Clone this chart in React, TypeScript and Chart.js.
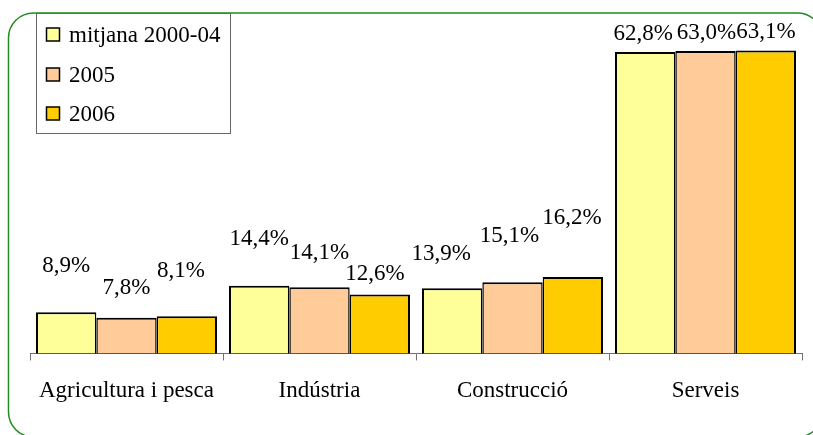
import { useEffect, useRef } from "react";
import { Chart, registerables } from "chart.js";

Chart.register(...registerables);

const categories = ["Agricultura i pesca", "Indústria", "Construcció", "Serveis"];
const seriesNames = ["mitjana 2000-04", "2005", "2006"];
const avg2000to04 = [8.9, 14.4, 13.9, 62.8];
const values2005 = [7.8, 14.1, 15.1, 63.0];
const values2006 = [8.1, 12.6, 16.2, 63.1];

const colors = ["#FFFF99", "#FFCC99", "#FFCC00"];
// manual label nudges (px) per series, per category (as placed in the original)
const labelDy = [
  [46, 47, 34, 18],
  [30, 34, 46, 18],
  [45, 20, 59, 18],
];
const labelDx = [
  [0, 0, -11, -2],
  [0, 0, -3, 1],
  [-6, -5, -1, 0],
];

const FONT = "'Liberation Serif', 'Times New Roman', serif";

const framePlugin = {
  id: "frame",
  beforeDraw(chart: any) {
    const ctx = chart.ctx;
    ctx.save();
    ctx.fillStyle = "#ffffff";
    ctx.fillRect(0, 0, chart.width, chart.height);
    ctx.strokeStyle = "#228B22";
    ctx.lineWidth = 1.5;
    ctx.beginPath();
    (ctx as any).roundRect(8.5, 13, 814, 424, 25);
    ctx.stroke();
    ctx.restore();
  },
};

const valueLabelPlugin = {
  id: "valueLabels",
  afterDatasetsDraw(chart: any) {
    const ctx = chart.ctx;
    ctx.save();
    ctx.font = `23px ${FONT}`;
    ctx.fillStyle = "#000";
    ctx.textAlign = "center";
    ctx.textBaseline = "middle";
    chart.data.datasets.forEach((ds: any, di: number) => {
      const meta = chart.getDatasetMeta(di);
      meta.data.forEach((bar: any, i: number) => {
        const v = ds.data[i] as number;
        const txt = v.toFixed(1).replace(".", ",") + "%";
        ctx.fillText(txt, bar.x + labelDx[di][i], bar.y - labelDy[di][i]);
      });
    });
    ctx.restore();
  },
};

const legendPlugin = {
  id: "customLegend",
  afterDraw(chart: any) {
    const ctx = chart.ctx;
    ctx.save();
    const x0 = 36.5, y0 = 13.5, w = 194, h = 120;
    ctx.fillStyle = "#fff";
    ctx.fillRect(x0, y0, w, h);
    ctx.strokeStyle = "#666";
    ctx.lineWidth = 1;
    ctx.strokeRect(x0, y0, w, h);
    const rows = [34.5, 74.5, 113.5];
    ctx.font = `23px ${FONT}`;
    ctx.textBaseline = "middle";
    ctx.textAlign = "left";
    chart.data.datasets.forEach((ds: any, i: number) => {
      const cy = rows[i];
      ctx.fillStyle = ds.backgroundColor;
      ctx.fillRect(46.5, cy - 6.5, 13, 13);
      ctx.strokeStyle = "#000";
      ctx.lineWidth = 1.5;
      ctx.strokeRect(46.5, cy - 6.5, 13, 13);
      ctx.fillStyle = "#000";
      ctx.fillText(ds.label, 69, cy + 1);
    });
    ctx.restore();
  },
};

export default function App() {
  const ref = useRef<HTMLCanvasElement>(null);
  useEffect(() => {
    if (!ref.current) return;
    const series = [avg2000to04, values2005, values2006];
    const borders = [
      { left: 2, right: 1.5, top: 2, bottom: 2 },
      { left: 1.5, right: 1.5, top: 2, bottom: 2 },
      { left: 1.5, right: 2, top: 2, bottom: 2 },
    ];
    const chart = new Chart(ref.current, {
      type: "bar",
      data: {
        labels: categories,
        datasets: series.map((data, i) => ({
          label: seriesNames[i],
          data,
          backgroundColor: colors[i],
          borderColor: "#000",
          borderWidth: borders[i] as any,
          borderSkipped: false as any,
          barPercentage: 1,
          categoryPercentage: 0.938,
        })),
      },
      options: {
        responsive: false,
        animation: false,
        devicePixelRatio: 1,
        layout: { padding: { left: 30, right: 11, top: 20, bottom: 13 } },
        plugins: {
          legend: { display: false },
          tooltip: { enabled: false },
        },
        scales: {
          x: {
            grid: {
              display: true,
              offset: true,
              drawOnChartArea: false,
              drawTicks: true,
              tickLength: 7,
              color: "#707070",
              lineWidth: 1,
            },
            border: { display: true, color: "#707070", width: 1 },
            ticks: {
              font: { family: FONT, size: 23 },
              color: "#000",
              padding: 17,
              maxRotation: 0,
              autoSkip: false,
            },
          },
          y: {
            display: false,
            min: 0.4,
            max: 69.4,
          },
        },
      },
      plugins: [framePlugin, valueLabelPlugin, legendPlugin],
    });
    return () => chart.destroy();
  }, []);
  return (
    <div style={{ position: "fixed", left: 0, top: 0, width: 813, height: 435, background: "#fff" }}>
      <canvas ref={ref} width={813} height={435} />
    </div>
  );
}
